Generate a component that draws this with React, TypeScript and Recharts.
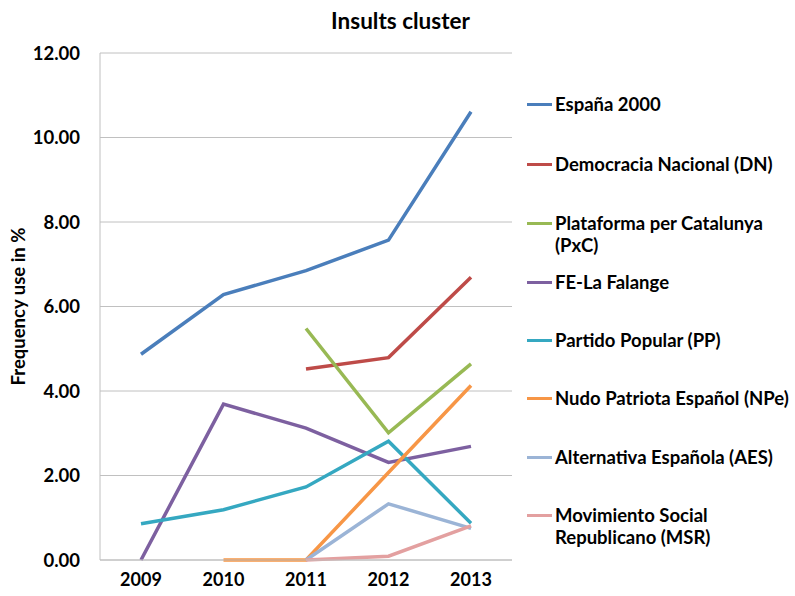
import { LineChart, Line, XAxis, YAxis, CartesianGrid, Legend } from "recharts";

const years = ["2009", "2010", "2011", "2012", "2013"];
const espana = [4.87, 6.28, 6.85, 7.57, 10.61];
const dn = [null, null, 4.52, 4.79, 6.69];
const pxc = [null, null, 5.48, 3.01, 4.64];
const falange = [0, 3.69, 3.12, 2.31, 2.69];
const pp = [0.86, 1.19, 1.73, 2.81, 0.87];
const npe = [null, 0, 0, 2.07, 4.13];
const aes = [null, null, 0, 1.33, 0.75];
const msr = [null, null, 0, 0.09, 0.81];
const yTicks = [0, 2, 4, 6, 8, 10, 12];

const SERIES = [
  { key: "espana", name: "España 2000", values: espana, color: "#4a7ebb" },
  { key: "dn", name: "Democracia Nacional (DN)", values: dn, color: "#be4b48" },
  { key: "pxc", name: "Plataforma per Catalunya (PxC)", values: pxc, color: "#98b954" },
  { key: "falange", name: "FE-La Falange", values: falange, color: "#7d60a0" },
  { key: "pp", name: "Partido Popular (PP)", values: pp, color: "#35a8c1" },
  { key: "npe", name: "Nudo Patriota Español (NPe)", values: npe, color: "#f79646" },
  { key: "aes", name: "Alternativa Española (AES)", values: aes, color: "#9bb4d6" },
  { key: "msr", name: "Movimiento Social Republicano (MSR)", values: msr, color: "#e3a0a0" },
];

// manual wrapping so legend breaks like the original
const LEGEND_LINES: Record<string, string[]> = {
  "Plataforma per Catalunya (PxC)": ["Plataforma per Catalunya", "(PxC)"],
  "Movimiento Social Republicano (MSR)": ["Movimiento Social", "Republicano (MSR)"],
};
const LEGEND_Y = [104, 164, 223, 282, 340, 398, 457, 515];

const data = years.map((year, i) => {
  const row: Record<string, number | string | null> = { year };
  SERIES.forEach((s) => {
    row[s.key] = s.values[i];
  });
  return row;
});

const FONT = "Lato, 'Open Sans', sans-serif";
const X_TICK = { fill: "#000", fontSize: 18, fontWeight: 700, fontFamily: FONT } as const;
const Y_TICK = { fill: "#000", fontSize: 18.5, fontWeight: 700, fontFamily: FONT } as const;

// legend order follows the series order, not the library's sorted payload
function LegendContent() {
  return (
    <div style={{ position: "relative", width: 268, height: 596, fontFamily: FONT }}>
      {SERIES.map((s, i) => {
        const lines = LEGEND_LINES[s.name] || [s.name];
        return (
          <div
            key={s.key}
            style={{
              position: "absolute",
              left: 0,
              top: LEGEND_Y[i] - 11,
              display: "flex",
              alignItems: "flex-start",
            }}
          >
            <div style={{ width: 25, height: 3, marginTop: 10, background: s.color }} />
            <div
              style={{
                marginLeft: 3,
                fontSize: 18.5,
                fontWeight: 700,
                lineHeight: "22px",
                color: "#000",
                whiteSpace: "nowrap",
              }}
            >
              {lines.map((l: string) => (
                <div key={l}>{l}</div>
              ))}
            </div>
          </div>
        );
      })}
    </div>
  );
}

export default function App() {
  return (
    <div style={{ position: "absolute", left: 0, top: 0, width: 795, height: 596, background: "#fff" }}>
      <div
        style={{
          position: "absolute",
          left: 0,
          width: 801,
          top: 7,
          textAlign: "center",
          fontFamily: FONT,
          fontWeight: 700,
          fontSize: 22.5,
          color: "#000",
        }}
      >
        Insults cluster
      </div>
      <LineChart width={795} height={596} data={data} margin={{ top: 53, right: 283, left: 0, bottom: 0 }}>
        <CartesianGrid vertical={false} stroke="#c0c0c0" />
        <XAxis
          dataKey="year"
          height={36}
          padding={{ left: 41, right: 41 }}
          tick={X_TICK}
          tickLine={false}
          tickMargin={7}
          axisLine={{ stroke: "#c0c0c0" }}
        />
        <YAxis
          width={100}
          domain={[0, 12]}
          ticks={yTicks}
          interval={0}
          tick={Y_TICK}
          tickLine={false}
          tickMargin={14}
          axisLine={{ stroke: "#c0c0c0" }}
          tickFormatter={(v: number) => v.toFixed(2)}
          label={{
            value: "Frequency use in %",
            angle: -90,
            position: "insideLeft",
            offset: 18,
            style: { textAnchor: "middle", fontFamily: FONT, fontWeight: 700, fontSize: 18.5, fill: "#000" },
          }}
        />
        <Legend
          layout="horizontal"
          align="center"
          verticalAlign="middle"
          content={LegendContent}
          wrapperStyle={{ position: "absolute", left: 527, top: 0, width: 268, height: 596 }}
        />
        {SERIES.map((s) => (
          <Line
            key={s.key}
            dataKey={s.key}
            name={s.name}
            type="linear"
            stroke={s.color}
            strokeWidth={3.5}
            dot={false}
            activeDot={false}
            connectNulls={false}
            isAnimationActive={false}
          />
        ))}
      </LineChart>
    </div>
  );
}
